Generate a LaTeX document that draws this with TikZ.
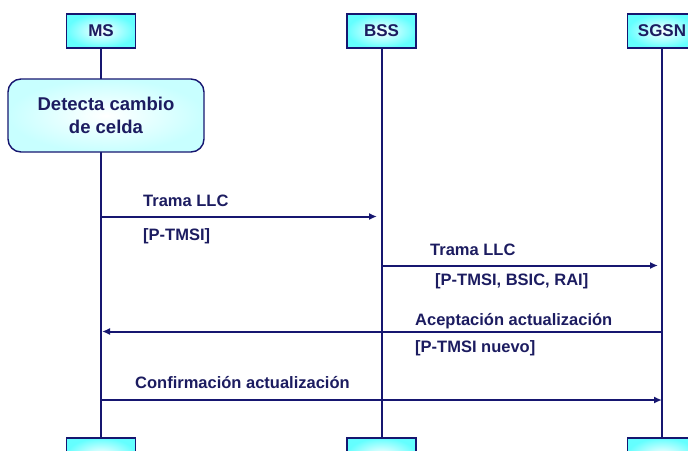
\documentclass[tikz,border=0pt]{standalone}
\usepackage{fontspec}
\setmainfont{Liberation Sans}
\usetikzlibrary{arrows.meta}
\definecolor{navy}{RGB}{22,22,112}
\definecolor{txt}{RGB}{28,28,96}
\definecolor{boxcyan}{RGB}{100,255,255}
\definecolor{palecyan}{RGB}{200,255,255}
\tikzset{
  entity/.style={draw=navy, line width=1.6pt, inner color=white, outer color=boxcyan,
    minimum width=69pt, minimum height=34pt, inner sep=0pt,
    font=\fontsize{17}{20}\selectfont\bfseries, text=txt},
  actionbox/.style={draw=navy, line width=1.4pt, rounded corners=13pt, inner color=white, outer color=palecyan,
    minimum width=196pt, minimum height=73pt, align=center,
    font=\fontsize{18.5}{23}\selectfont\bfseries, text=txt},
  lifeline/.style={draw=navy, line width=2pt},
  msg/.style={draw=navy, line width=2pt, -{Latex[length=8pt,width=7pt]}},
  lbl/.style={anchor=base west, inner sep=0pt, font=\fontsize{16.5}{19}\selectfont\bfseries, text=txt}
}
\begin{document}
\begin{tikzpicture}[x=1pt,y=-1pt]
\useasboundingbox (0,0) rectangle (688,450);
\clip (0,0) rectangle (688,450);
% head boxes
\node[entity] (ms) at (101,31) {MS};
\node[entity] (bss) at (381.5,31) {BSS};
\node[entity] (sgsn) at (662,31) {SGSN};
% foot boxes
\node[entity] (msf) at (101,455) {};
\node[entity] (bssf) at (381.5,455) {};
\node[entity] (sgsnf) at (662,455) {};
% lifelines
\draw[lifeline] (ms.south) -- (msf.north);
\draw[lifeline] (bss.south) -- (bssf.north);
\draw[lifeline] (sgsn.south) -- (sgsnf.north);
% action
\node[actionbox] (det) at (106,115.5) {Detecta cambio\\de celda};
% message anchor points
\coordinate (m1a) at (101,216.5);
\coordinate (m1b) at (377,216.5);
\coordinate (m2a) at (381.5,265.5);
\coordinate (m2b) at (658,265.5);
\coordinate (m3a) at (662,331.5);
\coordinate (m3b) at (102,331.5);
\coordinate (m4a) at (101,400);
\coordinate (m4b) at (662,400);
\draw[msg] (m1a) -- (m1b);
\draw[msg] (m2a) -- (m2b);
\draw[msg] (m3a) -- (m3b);
\draw[msg] (m4a) -- (m4b);
% labels
\node[lbl] (l1a) at (143,206) {Trama LLC};
\node[lbl] (l1b) at (143,240) {[P-TMSI]};
\node[lbl] (l2a) at (430,255.5) {Trama LLC};
\node[lbl] (l2b) at (435,285) {[P-TMSI, BSIC, RAI]};
\node[lbl] (l3a) at (415,325) {Aceptación actualización};
\node[lbl] (l3b) at (415,352) {[P-TMSI nuevo]};
\node[lbl] (l4a) at (135,388.5) {Confirmación actualización};
\end{tikzpicture}
\end{document}
